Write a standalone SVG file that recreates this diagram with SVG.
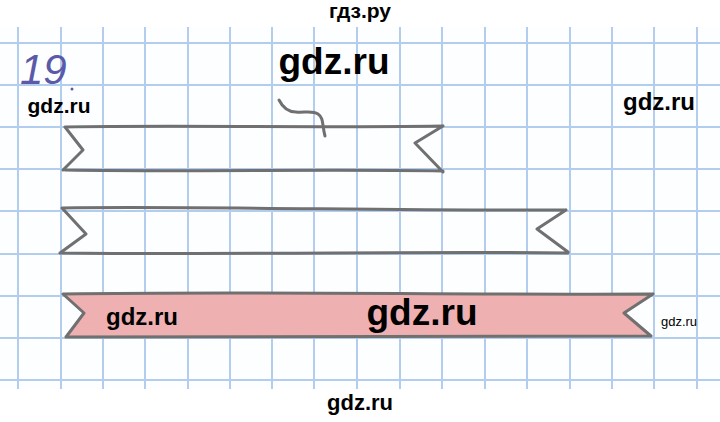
<svg xmlns="http://www.w3.org/2000/svg" width="720" height="422" viewBox="0 0 720 422">
<style>
.grid line{stroke:#b3cdef;stroke-width:2}
.rib{fill:none;stroke:#707070;stroke-width:3;stroke-linecap:round;stroke-linejoin:round}
.wm{font-family:"Liberation Sans",Arial,sans-serif;font-weight:bold;fill:#000}
</style>
<rect width="720" height="422" fill="#fff"/>
<g id="paper">
<rect x="0" y="27" width="720" height="362" fill="#fdfeff"/>
<g class="grid">
<line x1="0" y1="43" x2="720" y2="43"/>
<line x1="0" y1="85" x2="720" y2="85"/>
<line x1="0" y1="127" x2="720" y2="127"/>
<line x1="0" y1="169" x2="720" y2="169"/>
<line x1="0" y1="211" x2="720" y2="211"/>
<line x1="0" y1="254" x2="720" y2="254"/>
<line x1="0" y1="296" x2="720" y2="296"/>
<line x1="0" y1="338" x2="720" y2="338"/>
<line x1="0" y1="380" x2="720" y2="380"/>
<line x1="18" y1="27" x2="18" y2="389"/>
<line x1="61" y1="27" x2="61" y2="389"/>
<line x1="103" y1="27" x2="103" y2="389"/>
<line x1="145" y1="27" x2="145" y2="389"/>
<line x1="188" y1="27" x2="188" y2="389"/>
<line x1="230" y1="27" x2="230" y2="389"/>
<line x1="272" y1="27" x2="272" y2="389"/>
<line x1="314" y1="27" x2="314" y2="389"/>
<line x1="357" y1="27" x2="357" y2="389"/>
<line x1="400" y1="27" x2="400" y2="389"/>
<line x1="442" y1="27" x2="442" y2="389"/>
<line x1="485" y1="27" x2="485" y2="389"/>
<line x1="527" y1="27" x2="527" y2="389"/>
<line x1="570" y1="27" x2="570" y2="389"/>
<line x1="612" y1="27" x2="612" y2="389"/>
<line x1="654" y1="27" x2="654" y2="389"/>
<line x1="697" y1="27" x2="697" y2="389"/>
</g>
</g>
<g id="number">
<text x="20" y="84" font-family="Liberation Sans, sans-serif" font-style="italic" font-size="42" fill="#5a5aa8">19</text>
<circle cx="72" cy="89" r="1.5" fill="#5a5aa8"/>
</g>
<g id="ribbon1">
<path class="rib" d="M65,127 C180,125 300,128 443,126 M65,170 C200,172 320,169 443,171 M65,127 L83,150 L63,170 M443,126 L415,143 L443,172"/>
<path class="rib" d="M279,100 C283,108 288,112 296,112 C304,113 312,110 318,114 C324,118 322,125 325,136"/>
</g>
<g id="ribbon2">
<path class="rib" d="M62,208 C200,206 400,211 566,210 M60,253 C250,255 420,251 568,253 M62,208 L86,234 L60,253 M566,210 L537,229 L568,252"/>
</g>
<g id="ribbon3">
<path d="M63,294 C250,291 450,295 653,294 L624,313 L651,336 C450,338 250,335 66,337 L84,313 Z" fill="#eeb0b1"/>
<path class="rib" d="M63,294 C250,291 450,295 653,294 M66,337 C250,335 450,338 651,336 M63,294 L84,313 L66,337 M653,294 L624,313 L651,336"/>
</g>
<g id="watermarks">
<text class="wm" x="360" y="18" font-size="21" text-anchor="middle">гдз.ру</text>
<text class="wm" x="334" y="74" font-size="37" text-anchor="middle">gdz.ru</text>
<text class="wm" x="59" y="113" font-size="21" text-anchor="middle">gdz.ru</text>
<text class="wm" x="659" y="110" font-size="24" text-anchor="middle">gdz.ru</text>
<text class="wm" x="142" y="325" font-size="24" text-anchor="middle">gdz.ru</text>
<text class="wm" x="422" y="325" font-size="37" text-anchor="middle">gdz.ru</text>
<text x="679" y="326" font-family="Liberation Sans, Arial, sans-serif" font-size="13" text-anchor="middle" fill="#000">gdz.ru</text>
<text class="wm" x="360" y="410" font-size="22" text-anchor="middle">gdz.ru</text>
</g>
</svg>
